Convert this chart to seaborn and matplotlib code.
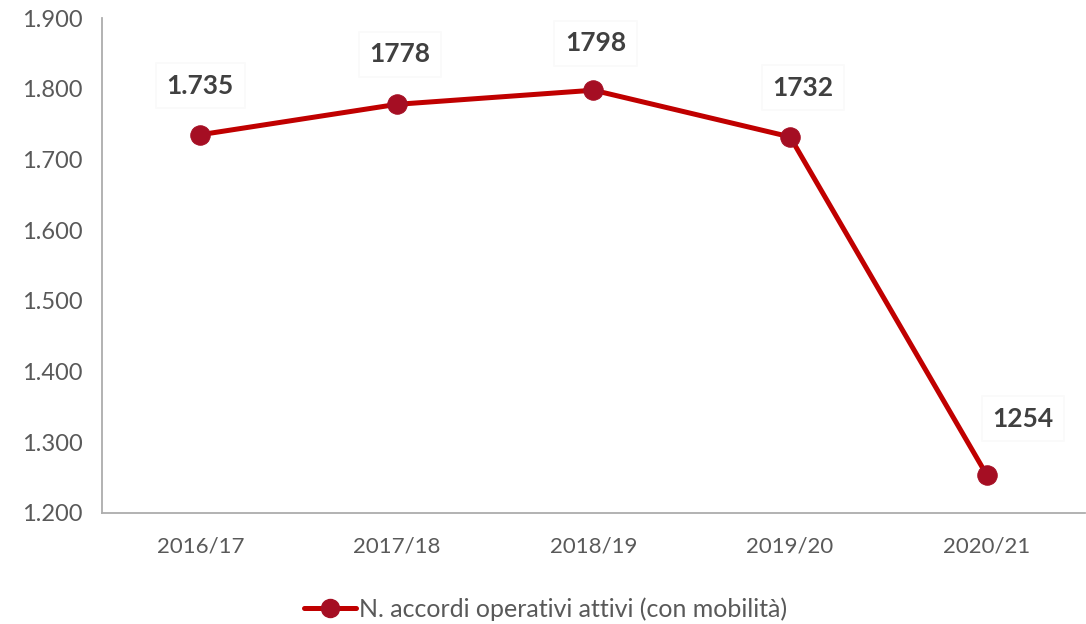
import matplotlib
matplotlib.use("Agg")
import matplotlib.pyplot as plt
import seaborn as sns
import pandas as pd
from matplotlib.ticker import FixedLocator, FuncFormatter
from matplotlib.lines import Line2D

years = ["2016/17", "2017/18", "2018/19", "2019/20", "2020/21"]
accordi = [1735, 1778, 1798, 1732, 1254]
value_labels = ["1.735", "1778", "1798", "1732", "1254"]
y_ticks = [1200, 1300, 1400, 1500, 1600, 1700, 1800, 1900]
series_name = "N. accordi operativi attivi (con mobilità)"

sns.set_style("white")
plt.rcParams["font.family"] = ["Lato", "DejaVu Sans"]

line_color = "#C00000"
marker_color = "#A50E23"
axis_color = "#ADADAD"
text_color = "#595959"
label_color = "#404040"

df = pd.DataFrame({"anno": years, "accordi": accordi, "serie": series_name})
df["pos"] = range(len(years))

fig = plt.figure(figsize=(10.86, 6.24), dpi=100)
ax = fig.add_axes([0.094, 0.178, 0.905, 0.793])

sns.lineplot(data=df, x="pos", y="accordi", ax=ax, color=line_color,
             linewidth=3.6, marker="o", markersize=14,
             markerfacecolor=marker_color, markeredgecolor=marker_color,
             legend=False)

ax.set_xlim(-0.5, len(years) - 0.5)
ax.set_ylim(y_ticks[0], y_ticks[-1])

# value labels above each point
offsets = [(0, 49), (3, 50), (2, 47), (13, 49), (36, 56)]
for i, (v, lab) in enumerate(zip(accordi, value_labels)):
    dx, dy = offsets[i]
    ax.annotate(lab, (i, v), xytext=(dx, dy), textcoords="offset pixels",
                ha="center", va="center", fontsize=19, fontweight="bold",
                color=label_color,
                bbox=dict(boxstyle="square,pad=0.4", fc="white", ec="#FAFAFA", lw=1.2))

# axes styling
for side in ["top", "right"]:
    ax.spines[side].set_visible(False)
for side in ["left", "bottom"]:
    ax.spines[side].set_color(axis_color)
    ax.spines[side].set_linewidth(1.3)

ax.yaxis.set_major_locator(FixedLocator(y_ticks))
ax.yaxis.set_major_formatter(FuncFormatter(lambda v, p: f"{int(v):,}".replace(",", ".")))
ax.tick_params(axis="y", which="major", direction="out", length=8, width=1.3,
               color=axis_color, labelcolor=text_color, labelsize=17, pad=6)

ax.set_xticks(range(len(years)))
ax.set_xticklabels(years)
ax.set_xticks([i - 0.5 for i in range(len(years) + 1)], minor=True)
ax.tick_params(axis="x", which="major", length=0, labelcolor=text_color,
               labelsize=16, pad=17)
ax.tick_params(axis="x", which="minor", direction="out", length=8, width=1.3,
               color=axis_color)
ax.set_xlabel("")
ax.set_ylabel("")

handle = Line2D([], [], color=line_color, linewidth=3.6, marker="o", markersize=13,
                markerfacecolor=marker_color, markeredgecolor=marker_color)
fig.legend([handle], [series_name], loc="center", bbox_to_anchor=(0.502, 0.024),
           frameon=False, fontsize=18, labelcolor=text_color,
           handlelength=2.1, handletextpad=0.1)

fig.savefig("out.png", dpi=100, facecolor="white")
